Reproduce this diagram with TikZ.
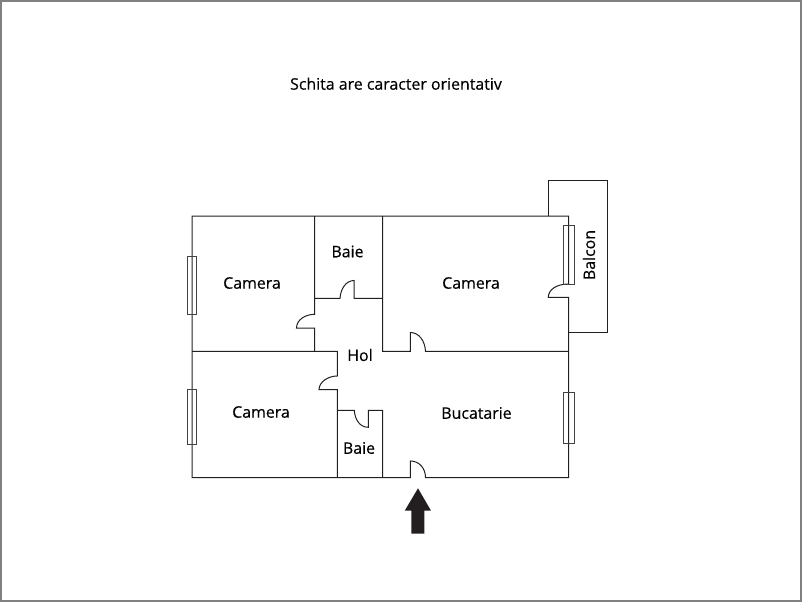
\documentclass[tikz,border=0pt]{standalone}
\usepackage{fontspec}
\setmainfont{Open Sans}[RawFeature={embolden=0.35}]
\definecolor{inkdark}{HTML}{231F20}
\tikzset{
  wall/.style={draw=inkdark,line width=1pt},
  windowbox/.style={draw=inkdark!85,line width=1pt,fill=none},
  framebox/.style={draw=black!50,line width=2pt},
  roomlabel/.style={font=\fontsize{15.9}{18}\selectfont,text=black,inner sep=0pt}
}
\begin{document}
\begin{tikzpicture}[x=1pt,y=-1pt]
  \useasboundingbox (0,0) rectangle (802,602);
  \draw[framebox] (1,1) rectangle (801,601);
  \begin{scope}[every node/.style={roomlabel}]
    \node (titlu) at (396,83.7) {Schita are caracter orientativ};
    \node (camerasus) at (252,283) {Camera};
    \node (baiesus) at (347.5,251.5) {Baie};
    \node (cameradr) at (471,283) {Camera};
    \node[rotate=90] (balcon) at (589,255) {Balcon};
    \node (hol) at (360,355) {Hol};
    \node (camerajos) at (261,412) {Camera};
    \node (baiejos) at (359,448) {Baie};
    \node (bucatarie) at (476.5,413) {Bucatarie};
  \end{scope}
  \begin{scope}[every path/.style={wall}]
    % contur
    \path (314.7,216) -- (192,216) -- (192,477.7) -- (410.4,477.7) -- (410.4,461)
      .. controls (419,461) and (425.5,468) .. (425.5,477.7) -- (568.7,477.7) -- (568.7,297.3)
      -- (548.3,297.3) .. controls (548.3,290) and (556,284) .. (568.7,284) -- (568.7,216) -- cycle;
    % balcon
    \path (548,216) -- (548,180.5) -- (607.7,180.5) -- (607.7,332.7) -- (568.7,332.7);
    % pereti interiori
    \path (314.7,216) -- (314.7,314.3) .. controls (305,314.3) and (296.5,320) .. (296.5,328)
      -- (314.7,328) -- (314.7,351.3);
    \path (382.7,216) -- (382.7,351.3) -- (410.4,351.3) -- (410.4,332.5)
      .. controls (419,332.5) and (425,341) .. (425.5,351.3) -- (568.7,351.3);
    \path (314.7,298.3) -- (340,298.3) .. controls (340.5,289) and (346,280.5) .. (354,280.5)
      -- (354,298.3) -- (382.7,298.3);
    \path (192,351.3) -- (337.3,351.3) -- (337.3,376)
      .. controls (328,376) and (319,382) .. (319,389.7) -- (337.3,389.7) -- (337.3,477.7);
    \path (337.3,410.3) -- (354.3,410.3) .. controls (355,420) and (360,427.3) .. (368.3,427.3)
      -- (368.3,410.3) -- (382.7,410.3) -- (382.7,477.7);
  \end{scope}
  \begin{scope}[every path/.style={windowbox}]
    \path (187.3,256) rectangle (196.7,314);
    \path (187.3,389.3) rectangle (196.7,444);
    \path (563.3,392.3) rectangle (574.3,443.3);
    \path (563.3,225) rectangle (574.3,284);
  \end{scope}
  \fill[inkdark] (418,488.3) -- (431,510.7) -- (424.3,510.7) -- (424.3,533.7)
    -- (411.3,533.7) -- (411.3,510.7) -- (404.7,510.7) -- cycle;
\end{tikzpicture}
\end{document}
